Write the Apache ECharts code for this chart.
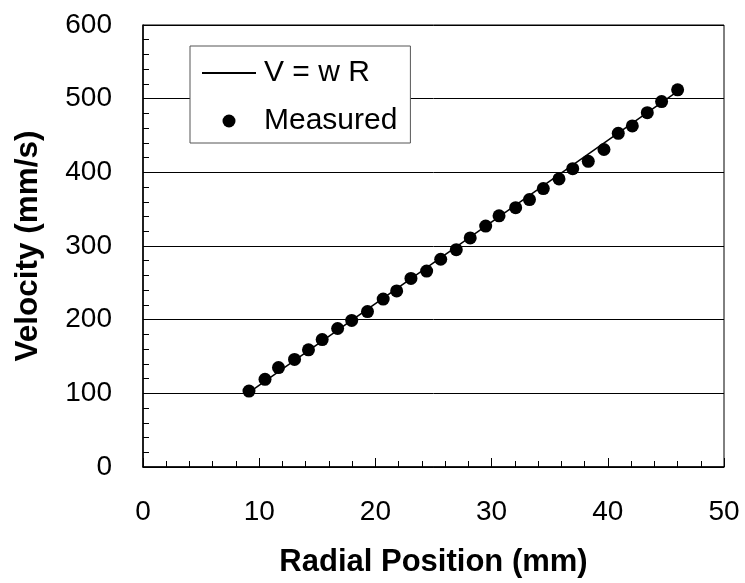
<!DOCTYPE html>
<html>
<head>
<meta charset="utf-8">
<script src="https://cdn.jsdelivr.net/npm/echarts@6/dist/echarts.min.js"></script>
<style>
    html, body { margin: 0; padding: 0; background: #fff; }
    #chart { width: 745px; height: 583px; }
</style>
</head>
<body>
<div id="chart"></div>
<script>
// measured points
const radialPos = [9.12, 10.50, 11.66, 13.04, 14.24, 15.42, 16.75, 17.96, 19.32, 20.67,
    21.83, 23.06, 24.41, 25.62, 26.96, 28.16, 29.49, 30.64, 32.07, 33.26,
    34.45, 35.80, 36.98, 38.32, 39.67, 40.90, 42.11, 43.40, 44.63, 46.01]
const velocity = [103, 119, 135, 146, 159, 173, 188, 199, 211, 228,
    239, 256, 266, 282, 295, 311, 327, 341, 352, 363,
    378, 391, 405, 415, 431, 453, 463, 481, 496, 512]
// V = w R line end points
const lineR = [9.1, 46.0]
const lineV = [101, 510]
const seriesNames = ['V = w R', 'Measured']

const font = 'Liberation Sans, Arial, sans-serif'

const chartInstance = echarts.init(document.getElementById('chart'), null, { renderer: 'canvas' })

const option = {
    animation: false,
    backgroundColor: '#fff',
    grid: {
        left: 143,
        right: 21,
        top: 25,
        bottom: 114,
        show: true,
        borderColor: '#000',
        borderWidth: 1,
        backgroundColor: 'transparent'
    },
    legend: {
        show: true,
        orient: 'vertical',
        left: 190,
        top: 46,
        padding: [9, 13, 4, 11],
        backgroundColor: '#fff',
        borderColor: '#555',
        borderWidth: 1,
        itemWidth: 54,
        itemHeight: 13,
        itemGap: 12,
        textStyle: {
            fontFamily: font,
            fontSize: 30,
            color: '#000',
            lineHeight: 36,
            padding: [0, 0, 0, 3]
        },
        // hide the dot on the fit line's icon, keep the line
        data: [
            { name: seriesNames[0], itemStyle: { color: 'rgba(0,0,0,0)', borderColor: 'rgba(0,0,0,0)', borderWidth: 0 } },
            { name: seriesNames[1], icon: 'circle' }
        ]
    },
    xAxis: {
        type: 'value',
        min: 0,
        max: 50,
        interval: 10,
        name: 'Radial Position (mm)',
        nameLocation: 'middle',
        nameGap: 80,
        nameTextStyle: { fontFamily: font, fontSize: 31, fontWeight: 'bold', color: '#000' },
        axisLine: { show: true, lineStyle: { color: '#000', width: 1.5 } },
        axisTick: { show: true, inside: true, length: 9, lineStyle: { color: '#000', width: 1 } },
        minorTick: { show: true, splitNumber: 5, length: 6, lineStyle: { color: '#000', width: 1 } },
        axisLabel: { fontFamily: font, fontSize: 28, color: '#000', margin: 31 },
        splitLine: { show: false }
    },
    yAxis: {
        type: 'value',
        min: 0,
        max: 600,
        interval: 100,
        name: 'Velocity (mm/s)',
        nameLocation: 'middle',
        nameGap: 99,
        nameRotate: 90,
        nameTextStyle: { fontFamily: font, fontSize: 31.5, fontWeight: 'bold', color: '#000' },
        axisLine: { show: true, lineStyle: { color: '#000', width: 1.5 } },
        axisTick: { show: true, inside: true, length: 9, lineStyle: { color: '#000', width: 1 } },
        minorTick: { show: true, splitNumber: 5, length: 6, lineStyle: { color: '#000', width: 1 } },
        axisLabel: { fontFamily: font, fontSize: 28, color: '#000', margin: 31 },
        splitLine: { show: true, lineStyle: { color: '#000', width: 1 } }
    },
    series: [
        {
            name: seriesNames[0],
            type: 'line',
            symbol: 'none',
            data: lineR.map((r, i) => [r, lineV[i]]),
            lineStyle: { color: '#000', width: 1.5 },
            itemStyle: { color: '#000' },
            z: 2
        },
        {
            name: seriesNames[1],
            type: 'scatter',
            symbol: 'circle',
            symbolSize: 13,
            data: radialPos.map((r, i) => [r, velocity[i]]),
            itemStyle: { color: '#000', opacity: 1 },
            z: 3
        }
    ]
}
chartInstance.setOption(option)
</script>
</body>
</html>
